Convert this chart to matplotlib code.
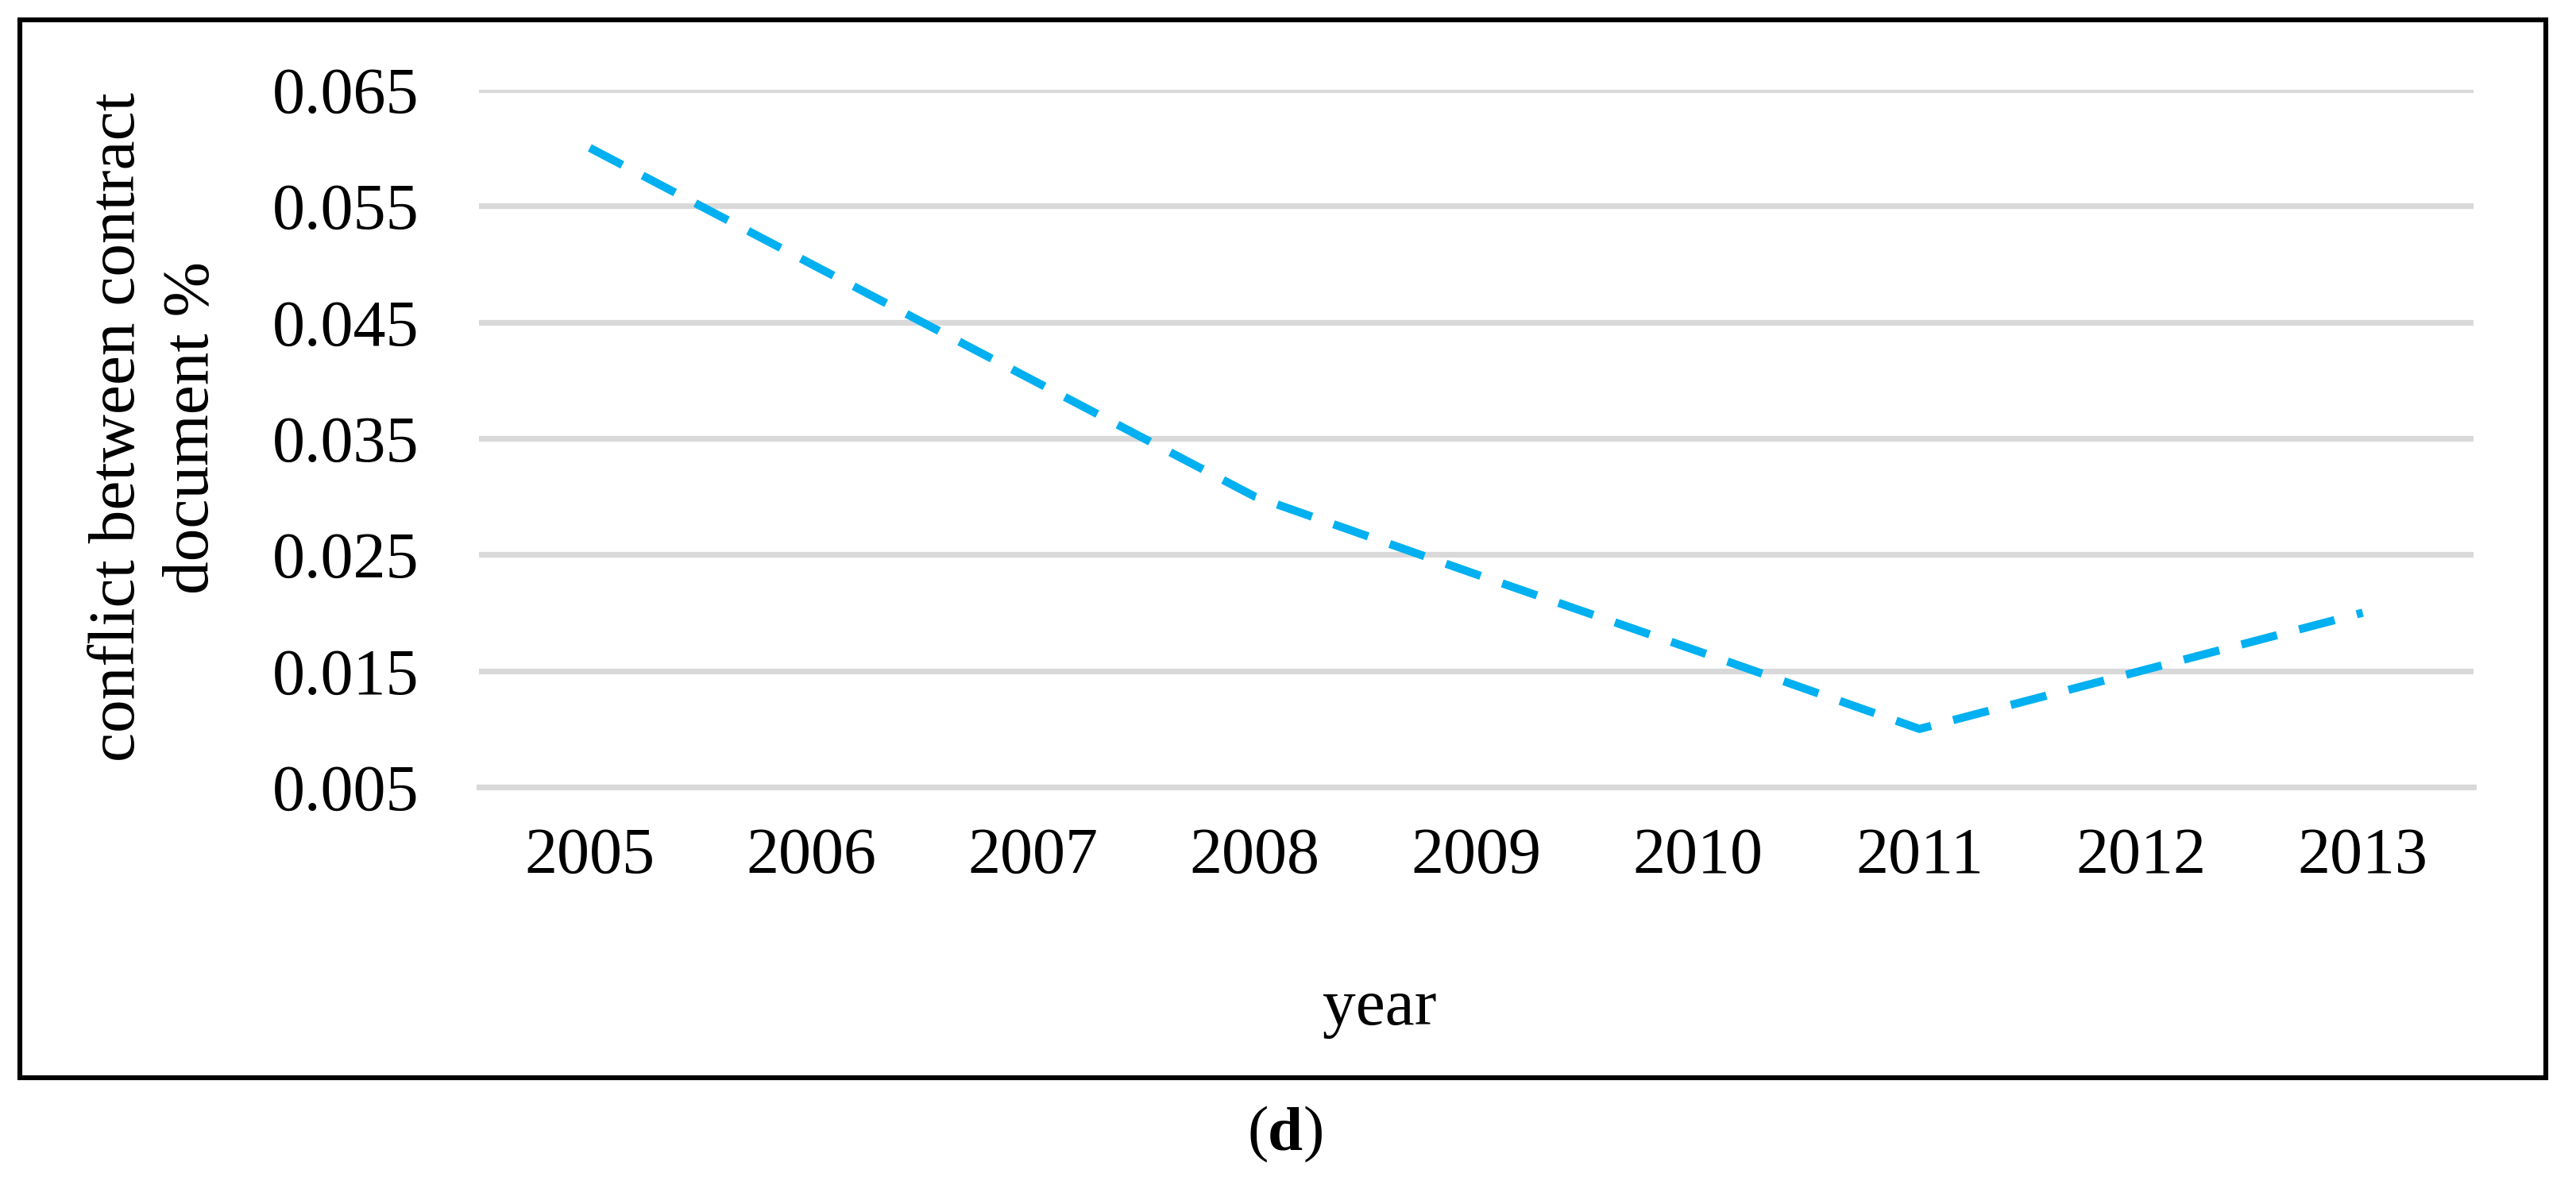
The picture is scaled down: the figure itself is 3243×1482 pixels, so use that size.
import matplotlib
matplotlib.use("Agg")
import matplotlib.pyplot as plt
from matplotlib.patches import Rectangle

years = ["2005", "2006", "2007", "2008", "2009", "2010", "2011", "2012", "2013"]
values = [0.060, 0.050, 0.040, 0.030, 0.0233, 0.0167, 0.010, 0.015, 0.020]
yticks = [0.005, 0.015, 0.025, 0.035, 0.045, 0.055, 0.065]
ytick_labels = ["0.005", "0.015", "0.025", "0.035", "0.045", "0.055", "0.065"]

plt.rcParams['font.family'] = ['Liberation Serif', 'DejaVu Serif']

W, H = 3243, 1482
DPI = 100
fig = plt.figure(figsize=(W / DPI, H / DPI), dpi=DPI)
fig.patch.set_facecolor("white")

ax_l, ax_r, ax_t, ax_b = 603, 3114, 113, 991
ax = fig.add_axes([ax_l / W, 1 - ax_b / H, (ax_r - ax_l) / W, (ax_b - ax_t) / H])

x = list(range(len(years)))
ax.plot(x, values, color="#00B0F0", linewidth=7.4, linestyle=(0, (4.5, 2.8)),
        dash_capstyle="butt", solid_joinstyle="miter", zorder=3, clip_on=False)

ax.set_xlim(-0.5, len(years) - 0.5)
ax.set_ylim(0.005, 0.065)
ax.set_yticks(yticks)
ax.set_yticklabels(ytick_labels)
ax.set_xticks(x)
ax.set_xticklabels(years)
ax.tick_params(axis="both", length=0, labelsize=59)
ax.tick_params(axis="y", pad=54)
ax.tick_params(axis="x", pad=36)
ax.grid(axis="y", color="#D9D9D9", linewidth=5.2)
ax.set_axisbelow(True)
for s in ax.spines.values():
    s.set_visible(False)
ax.axhline(0.005, color="#D9D9D9", linewidth=5.2, zorder=1, clip_on=False)

fig.text(196 / W, 1 - 538 / H, "conflict between contract\ndocument %", rotation=90,
         ha="center", va="center", fontsize=60, linespacing=1.3, multialignment="center")
fig.text(1737 / W, 1 - 1290 / H, "year", ha="center", va="baseline", fontsize=60)

# caption "(d)" with bold d
fig.text(1570 / W, 1 - 1447 / H, "(", ha="left", va="baseline", fontsize=57)
fig.text(1618 / W, 1 - 1447 / H, "d", ha="center", va="baseline", fontsize=57, fontweight="bold")
fig.text(1667 / W, 1 - 1447 / H, ")", ha="right", va="baseline", fontsize=57)

x0, y0, x1, y1 = 24.5, 24.5, 3205, 1357
fig.patches.append(Rectangle((x0 / W, 1 - y1 / H), (x1 - x0) / W, (y1 - y0) / H,
                             transform=fig.transFigure, fill=False,
                             edgecolor="black", linewidth=4.4, zorder=10))

fig.savefig("out.png", dpi=DPI, facecolor="white")
